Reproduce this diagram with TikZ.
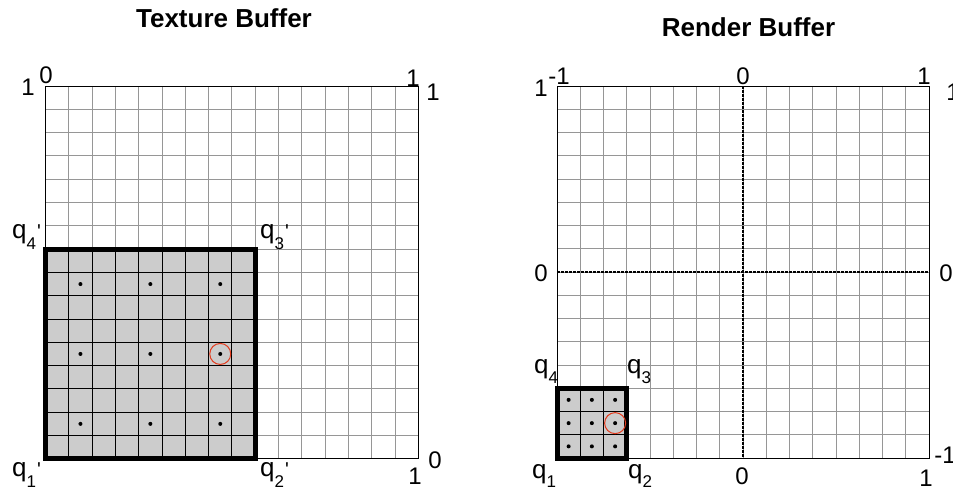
\documentclass[tikz,border=0pt]{standalone}
\usepackage{fontspec}
\setmainfont{Liberation Sans}[Ligatures=TeXOff]
\definecolor{gridgray}{RGB}{150,150,150}
\definecolor{cellgray}{RGB}{204,204,204}
\definecolor{ringred}{RGB}{228,60,30}
\newcommand\qsub[1]{\raisebox{-10.5pt}{\fontsize{17}{17}\selectfont #1}}
\newcommand\qsubr[1]{\raisebox{-9.5pt}{\fontsize{17}{17}\selectfont #1}}
\newcommand\qprime{\hspace{1pt}{\fontsize{20}{20}\selectfont '}}
\tikzset{
  titlelab/.style={font=\fontsize{26}{26}\selectfont\bfseries, inner sep=0pt},
  numlab/.style={font=\fontsize{24}{24}\selectfont, inner sep=0pt},
  qlab/.style={font=\fontsize{26}{26}\selectfont, inner sep=0pt, anchor=base west},
  gridline/.style={draw=gridgray, line width=1pt},
  innerline/.style={draw=black, line width=1pt},
  frameline/.style={draw=black, line width=1pt},
  thickframe/.style={draw=black, line width=5pt},
  axisline/.style={draw=black, line width=1.5pt, dash pattern=on 2.5pt off 1.5pt},
  ring/.style={draw=ringred, line width=1pt},
}
\begin{document}
\begin{tikzpicture}[x=1pt,y=-1pt]
\fill[white] (0,0) rectangle (953,490);
\useasboundingbox (0,0) rectangle (953,490);

% ---------- Left grid (Texture Buffer) ----------
\def\LX{45.5}\def\LY{86}\def\LC{23.3}
\foreach \i in {1,...,15} {
  \draw[gridline] (\LX+\i*\LC,\LY) -- (\LX+\i*\LC,\LY+16*\LC);
  \draw[gridline] (\LX,\LY+\i*\LC) -- (\LX+16*\LC,\LY+\i*\LC);
}
\draw[frameline] (\LX,\LY) rectangle (\LX+16*\LC,\LY+16*\LC);
% gray square 9x9
\fill[cellgray] (\LX,\LY+7*\LC) rectangle (\LX+9*\LC,\LY+16*\LC);
\foreach \i in {1,...,8} {
  \draw[innerline] (\LX+\i*\LC,\LY+7*\LC) -- (\LX+\i*\LC,\LY+16*\LC);
  \draw[innerline] (\LX,\LY+7*\LC+\i*\LC) -- (\LX+9*\LC,\LY+7*\LC+\i*\LC);
}
\draw[thickframe] (\LX,\LY+7*\LC) rectangle (\LX+9*\LC,\LY+16*\LC);
\foreach \a in {1.5,4.5,7.5} \foreach \b in {1.5,4.5,7.5}
  \fill[black] (\LX+\a*\LC,\LY+16*\LC-\b*\LC) circle (2);
\draw[ring] (\LX+7.5*\LC,\LY+16*\LC-4.5*\LC) circle (10.5);

% ---------- Right grid (Render Buffer) ----------
\def\RX{557}\def\RY{86}\def\RC{23.25}
\foreach \i in {1,...,15} {
  \draw[gridline] (\RX+\i*\RC,\RY) -- (\RX+\i*\RC,\RY+16*\RC);
  \draw[gridline] (\RX,\RY+\i*\RC) -- (\RX+16*\RC,\RY+\i*\RC);
}
\draw[frameline] (\RX,\RY) rectangle (\RX+16*\RC,\RY+16*\RC);
\coordinate (vtop) at (\RX+8*\RC,\RY);
\coordinate (vbot) at (\RX+8*\RC,\RY+16*\RC);
\coordinate (hlft) at (\RX,\RY+8*\RC);
\coordinate (hrgt) at (\RX+16*\RC,\RY+8*\RC);
\draw[axisline] (vtop) -- (vbot);
\draw[axisline] (hlft) -- (hrgt);
% gray square 3x3
\fill[cellgray] (\RX,\RY+13*\RC) rectangle (\RX+3*\RC,\RY+16*\RC);
\foreach \i in {1,2} {
  \draw[innerline] (\RX+\i*\RC,\RY+13*\RC) -- (\RX+\i*\RC,\RY+16*\RC);
  \draw[innerline] (\RX,\RY+13*\RC+\i*\RC) -- (\RX+3*\RC,\RY+13*\RC+\i*\RC);
}
\draw[thickframe] (\RX,\RY+13*\RC) rectangle (\RX+3*\RC,\RY+16*\RC);
\foreach \a in {0.5,1.5,2.5} \foreach \b in {0.5,1.5,2.5}
  \fill[black] (\RX+\a*\RC,\RY+16*\RC-\b*\RC) circle (2);
\draw[ring] (\RX+2.5*\RC,\RY+16*\RC-1.5*\RC) circle (10.5);

% ---------- Titles ----------
\node[titlelab] (ttex) at (224,18.5) {Texture Buffer};
\node[titlelab] (tren) at (748.5,27) {Render Buffer};

% ---------- Left labels ----------
\node[numlab] (la) at (46,75) {0};
\node[numlab] (lb) at (28,87) {1};
\node[numlab] (lc) at (413,78) {1};
\node[numlab] (ld) at (433,92) {1};
\node[numlab] (le) at (415,476) {1};
\node[numlab] (lf) at (435,460) {0};
\node[qlab] (q4p) at (12,238.5) {q\qsub{4}\qprime};
\node[qlab] (q3p) at (260,238.5) {q\qsub{3}\qprime};
\node[qlab] (q1p) at (12,476.5) {q\qsub{1}\qprime};
\node[qlab] (q2p) at (260,476.5) {q\qsub{2}\qprime};

% ---------- Right labels ----------
\node[numlab] (ra) at (559,76) {-1};
\node[numlab] (rb) at (541,88) {1};
\node[numlab] (rc) at (743,76) {0};
\node[numlab] (rd) at (924,76) {1};
\node[numlab] (re) at (953,92) {1};
\node[numlab] (rf) at (541,273) {0};
\node[numlab] (rg) at (946,273) {0};
\node[numlab] (rh) at (945,455) {-1};
\node[numlab] (ri) at (742,476) {0};
\node[numlab] (rj) at (926,478) {1};
\node[qlab] (q4) at (534,373.5) {q\qsubr{4}};
\node[qlab] (q3) at (627,373.5) {q\qsubr{3}};
\node[qlab] (q1) at (532,478) {q\qsubr{1}};
\node[qlab] (q2) at (628,478) {q\qsubr{2}};
\end{tikzpicture}
\end{document}
